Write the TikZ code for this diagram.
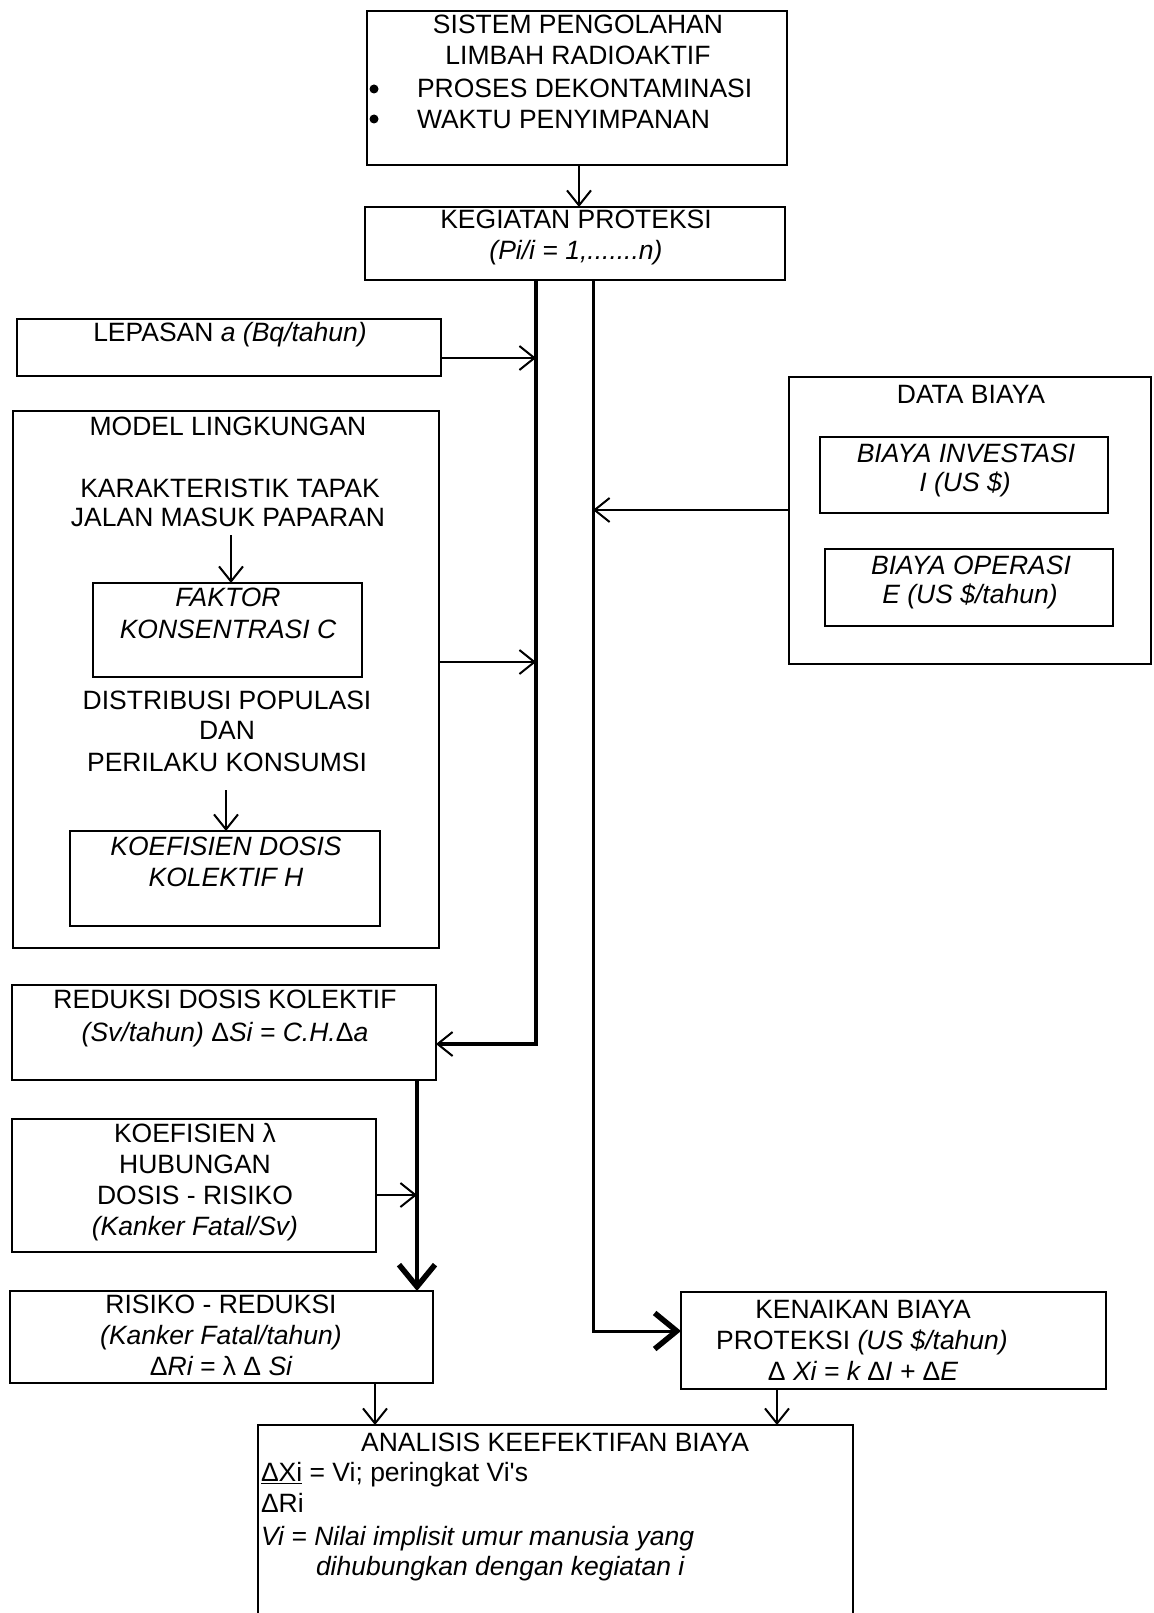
\documentclass[tikz,border=0pt]{standalone}
\usepackage{fontspec}
\setmainfont{Liberation Sans}
\newfontface\plainap{Liberation Sans}
\usetikzlibrary{arrows.meta}
\newcommand\diagfs{\fontsize{26.5}{30}\selectfont}
\begin{document}
\begin{tikzpicture}[x=1pt,y=-1pt,
  box/.style={draw, line width=2pt, rectangle, inner sep=0pt, outer sep=0pt},
  txt/.style={inner sep=0pt, outer sep=0pt, font=\diagfs, anchor=base},
  txl/.style={txt, anchor=base west},
  conn/.style={line width=2pt, -{Straight Barb[length=15pt,width=24pt,line width=2pt]}},
  trunk/.style={line width=4.5pt},
  trunkthin/.style={line width=3pt},
  bigtip/.style={-{Straight Barb[length=22pt,width=36pt,line width=5.5pt]}},
  smalltip/.style={-{Straight Barb[length=15pt,width=24pt,line width=2pt]}},
  bullet/.style={circle, fill, inner sep=0pt, minimum size=9pt}
]
\useasboundingbox[fill=white] (0,0) rectangle (1153,1613);

% boxes
\node[box, minimum width=420pt, minimum height=154pt] (top) at (577,88) {};
\node[box, minimum width=420pt, minimum height=73pt] (keg) at (575,243.5) {};
\node[box, minimum width=424pt, minimum height=57pt] (lep) at (229,347.5) {};
\node[box, minimum width=426pt, minimum height=537pt] (model) at (226,679.5) {};
\node[box, minimum width=269pt, minimum height=94pt] (faktor) at (227.5,630) {};
\node[box, minimum width=310pt, minimum height=95pt] (koefd) at (225,878.5) {};
\node[box, minimum width=424pt, minimum height=95pt] (red) at (224,1032.5) {};
\node[box, minimum width=364pt, minimum height=133pt] (koefl) at (194,1185.5) {};
\node[box, minimum width=423pt, minimum height=92pt] (risk) at (221.5,1337) {};
\node[box, minimum width=425pt, minimum height=97pt] (ken) at (893.5,1340.5) {};
\node[box, minimum width=595pt, minimum height=225pt] (ana) at (555.5,1537.5) {};
\node[box, line width=1.6pt, minimum width=362pt, minimum height=287pt] (data) at (970,520.5) {};
\node[box, line width=1.6pt, minimum width=288pt, minimum height=76pt] (inv) at (964,475) {};
\node[box, line width=1.6pt, minimum width=288pt, minimum height=77pt] (ops) at (969,587.5) {};

% texts
\node[txt] (t1) at (578,33.5) {SISTEM PENGOLAHAN};
\node[txt] (t2) at (578,64.5) {LIMBAH RADIOAKTIF};
\node[bullet] (b1) at (374,89) {};
\node[bullet] (b2) at (374,119) {};
\node[txl] (t3) at (417,97.5) {PROSES DEKONTAMINASI};
\node[txl] (t4) at (417,128.5) {WAKTU PENYIMPANAN};
\node[txt] (t5) at (576,228.5) {KEGIATAN PROTEKSI};
\node[txt] (t6) at (576,259.5) {\itshape (Pi/i = 1,.......n)};
\node[txt] (t7) at (230,341.5) {LEPASAN \textit{a (Bq/tahun)}};
\node[txt] (t8) at (228,435.5) {MODEL LINGKUNGAN};
\node[txt] (t9) at (230,497.5) {KARAKTERISTIK TAPAK};
\node[txt] (t10) at (228,526.5) {JALAN MASUK PAPARAN};
\node[txt] (t11) at (228,606.5) {\itshape FAKTOR};
\node[txt] (t12) at (228,638.5) {\itshape KONSENTRASI C};
\node[txt] (t13) at (227,709.5) {DISTRIBUSI POPULASI};
\node[txt] (t14) at (227,739.5) {DAN};
\node[txt] (t15) at (227,771.5) {PERILAKU KONSUMSI};
\node[txt] (t16) at (226,855.5) {\itshape KOEFISIEN DOSIS};
\node[txt] (t17) at (226,886.5) {\itshape KOLEKTIF H};
\node[txt] (t18) at (225,1008.5) {REDUKSI DOSIS KOLEKTIF};
\node[txt] (t19) at (225,1041.5) {\itshape (Sv/tahun) {\upshape Δ}Si = C.H.{\upshape Δ}a};
\node[txt] (t20) at (195,1142.5) {KOEFISIEN λ};
\node[txt] (t21) at (195,1173.5) {HUBUNGAN};
\node[txt] (t22) at (195,1204.5) {DOSIS - RISIKO};
\node[txt] (t23) at (195,1235.5) {\itshape (Kanker Fatal/Sv)};
\node[txt] (t24) at (221,1313.5) {RISIKO - REDUKSI};
\node[txt] (t25) at (221,1344.5) {\itshape (Kanker Fatal/tahun)};
\node[txt] (t26) at (221,1375.5) {\itshape {\upshape Δ}Ri = {\upshape λ Δ} Si};
\node[txt] (t27) at (863,1318.5) {KENAIKAN BIAYA};
\node[txt] (t28) at (862,1349.5) {PROTEKSI \textit{(US \$/tahun)}};
\node[txt] (t29) at (863,1380.5) {\itshape {\upshape Δ} Xi = k {\upshape Δ}I + {\upshape Δ}E};
\node[txt] (t30) at (555,1451.5) {ANALISIS KEEFEKTIFAN BIAYA};
\node[txl] (t31) at (261,1481.5) {\underline{ΔXi} = Vi; peringkat Vi{\plainap '}s};
\node[txl] (t32) at (261,1512.5) {ΔRi};
\node[txl] (t33) at (261,1545.5) {\itshape Vi = Nilai implisit umur manusia yang};
\node[txl] (t34) at (316,1575.5) {\itshape dihubungkan dengan kegiatan i};
\node[txt] (t35) at (971,403.5) {DATA BIAYA};
\node[txt] (t36) at (966,462.5) {\itshape BIAYA INVESTASI};
\node[txt] (t37) at (965,491.5) {\itshape I (US \$)};
\node[txt] (t38) at (971,574.5) {\itshape BIAYA OPERASI};
\node[txt] (t39) at (970,603.5) {\itshape E (US \$/tahun)};

% junction coordinates
\coordinate (xa) at (536,300);
\coordinate (xb) at (593,300);
\coordinate (j1) at (536,358);
\coordinate (j2) at (536,662);
\coordinate (j3) at (593,510);
\coordinate (j4) at (417,1195);
\coordinate (xc) at (417,1100);
\coordinate (xd) at (375,1400);
\coordinate (xe) at (777,1400);
\coordinate (xf) at (579,180);
\coordinate (s1) at (231,535);
\coordinate (s2) at (226,790);
\path (red.east) ++(0,11.5) coordinate (redin);
\path (ken.west) ++(0,-9.5) coordinate (kenin);

% connectors
\draw[conn] (top.south -| xf) -- (keg.north -| xf);
\draw[trunk, smalltip] (keg.south -| xa) |- (redin);
\draw[trunkthin, bigtip] (keg.south -| xb) |- (kenin);
\draw[conn] (lep.east |- j1) -- (j1);
\draw[conn] (model.east |- j2) -- (j2);
\draw[conn] (data.west |- j3) -- (j3);
\draw[conn] (s1) -- (faktor.north -| s1);
\draw[conn] (s2) -- (koefd.north -| s2);
\draw[trunk, bigtip] (red.south -| xc) -- (risk.north -| xc);
\draw[conn] (koefl.east |- j4) -- (j4);
\draw[conn] (risk.south -| xd) -- (ana.north -| xd);
\draw[conn] (ken.south -| xe) -- (ana.north -| xe);
\end{tikzpicture}
\end{document}
